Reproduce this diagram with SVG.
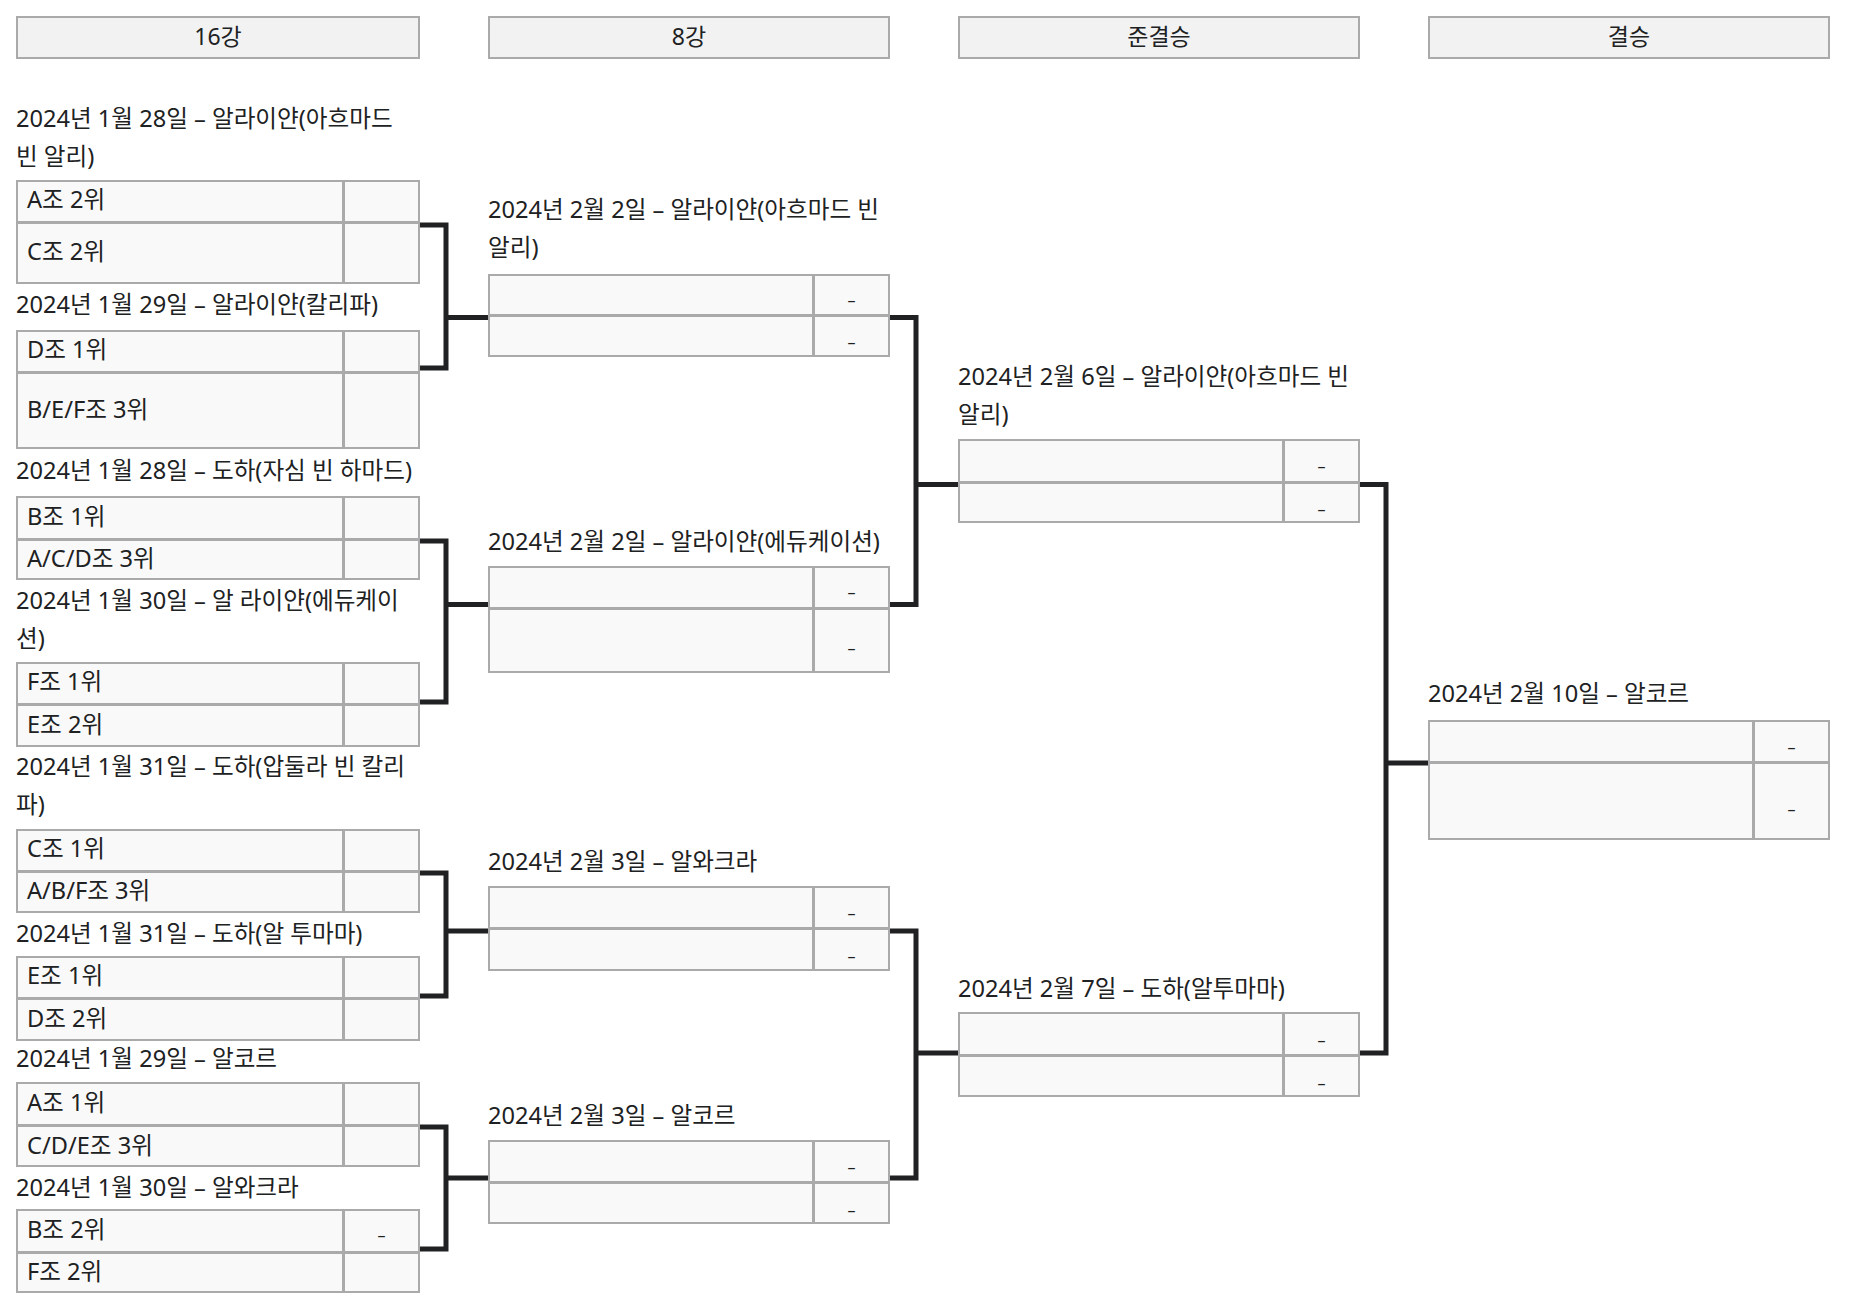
<svg xmlns="http://www.w3.org/2000/svg" width="1876" height="1298" viewBox="0 0 1876 1298">
<style>
text{font-family:"Noto Sans","Noto Sans CJK KR",sans-serif;font-size:23.6px;fill:#202122}
.hd{fill:#f2f2f2;stroke:#aaa;stroke-width:2}
.c{fill:#f9f9f9;stroke:#aaa;stroke-width:2}
.h{text-anchor:middle;font-size:23px}
.d{text-anchor:middle;font-size:16px}
.ln{fill:none;stroke:#202122;stroke-width:5;stroke-linejoin:miter}
</style>
<rect width="1876" height="1298" fill="#fff"/>
<g id="headers">
<rect class="hd" x="17" y="17" width="402" height="41"/><text class="h" x="218" y="45">16강</text>
<rect class="hd" x="489" y="17" width="400" height="41"/><text class="h" x="689" y="45">8강</text>
<rect class="hd" x="959" y="17" width="400" height="41"/><text class="h" x="1159" y="45">준결승</text>
<rect class="hd" x="1429" y="17" width="400" height="41"/><text class="h" x="1629" y="45">결승</text>
</g>
<g id="connectors">
<path class="ln" d="M420 225H446V368H420M446 317.5H488"/>
<path class="ln" d="M420 541H446V702H420M446 604.5H488"/>
<path class="ln" d="M420 873H446V996H420M446 931H488"/>
<path class="ln" d="M420 1127H446V1249H420M446 1178H488"/>
<path class="ln" d="M890 317.5H916V604.5H890M916 484.5H958"/>
<path class="ln" d="M890 931H916V1178H890M916 1053H958"/>
<path class="ln" d="M1360 484.5H1386V1053H1360M1386 763H1428"/>
</g>
<g id="r16-1">
<text x="16" y="127">2024년 1월 28일 – 알라이얀(아흐마드</text><text x="16" y="165">빈 알리)</text>
<rect class="c" x="17" y="181" width="326" height="41"/><rect class="c" x="344" y="181" width="75" height="41"/>
<rect class="c" x="17" y="223" width="326" height="60"/><rect class="c" x="344" y="223" width="75" height="60"/>
<text x="27" y="208">A조 2위</text><text x="27" y="260">C조 2위</text>
</g>
<g id="r16-2">
<text x="16" y="313">2024년 1월 29일 – 알라이얀(칼리파)</text>
<rect class="c" x="17" y="331" width="326" height="41"/><rect class="c" x="344" y="331" width="75" height="41"/>
<rect class="c" x="17" y="373" width="326" height="75"/><rect class="c" x="344" y="373" width="75" height="75"/>
<text x="27" y="358">D조 1위</text><text x="27" y="418">B/E/F조 3위</text>
</g>
<g id="r16-3">
<text x="16" y="479">2024년 1월 28일 – 도하(자심 빈 하마드)</text>
<rect class="c" x="17" y="497" width="326" height="42"/><rect class="c" x="344" y="497" width="75" height="42"/>
<rect class="c" x="17" y="540" width="326" height="39"/><rect class="c" x="344" y="540" width="75" height="39"/>
<text x="27" y="524.5">B조 1위</text><text x="27" y="566.5">A/C/D조 3위</text>
</g>
<g id="r16-4">
<text x="16" y="609">2024년 1월 30일 – 알 라이얀(에듀케이</text><text x="16" y="647">션)</text>
<rect class="c" x="17" y="663" width="326" height="41"/><rect class="c" x="344" y="663" width="75" height="41"/>
<rect class="c" x="17" y="705" width="326" height="41"/><rect class="c" x="344" y="705" width="75" height="41"/>
<text x="27" y="690">F조 1위</text><text x="27" y="732.5">E조 2위</text>
</g>
<g id="r16-5">
<text x="16" y="775">2024년 1월 31일 – 도하(압둘라 빈 칼리</text><text x="16" y="813">파)</text>
<rect class="c" x="17" y="830" width="326" height="41"/><rect class="c" x="344" y="830" width="75" height="41"/>
<rect class="c" x="17" y="872" width="326" height="40"/><rect class="c" x="344" y="872" width="75" height="40"/>
<text x="27" y="857">C조 1위</text><text x="27" y="899">A/B/F조 3위</text>
</g>
<g id="r16-6">
<text x="16" y="942">2024년 1월 31일 – 도하(알 투마마)</text>
<rect class="c" x="17" y="957" width="326" height="41"/><rect class="c" x="344" y="957" width="75" height="41"/>
<rect class="c" x="17" y="999" width="326" height="41"/><rect class="c" x="344" y="999" width="75" height="41"/>
<text x="27" y="984">E조 1위</text><text x="27" y="1026.5">D조 2위</text>
</g>
<g id="r16-7">
<text x="16" y="1067">2024년 1월 29일 – 알코르</text>
<rect class="c" x="17" y="1083" width="326" height="42"/><rect class="c" x="344" y="1083" width="75" height="42"/>
<rect class="c" x="17" y="1126" width="326" height="40"/><rect class="c" x="344" y="1126" width="75" height="40"/>
<text x="27" y="1110.5">A조 1위</text><text x="27" y="1153.5">C/D/E조 3위</text>
</g>
<g id="r16-8">
<text x="16" y="1196">2024년 1월 30일 – 알와크라</text>
<rect class="c" x="17" y="1210" width="326" height="42"/><rect class="c" x="344" y="1210" width="75" height="42"/>
<rect class="c" x="17" y="1253" width="326" height="39"/><rect class="c" x="344" y="1253" width="75" height="39"/>
<text x="27" y="1237.5">B조 2위</text><text x="27" y="1280">F조 2위</text>
<text class="d" x="381.5" y="1241">–</text>
</g>
<g id="qf-1">
<text x="488" y="218">2024년 2월 2일 – 알라이얀(아흐마드 빈</text><text x="488" y="256">알리)</text>
<rect class="c" x="489" y="275" width="324" height="40"/><rect class="c" x="814" y="275" width="75" height="40"/>
<rect class="c" x="489" y="316" width="324" height="40"/><rect class="c" x="814" y="316" width="75" height="40"/>
<text class="d" x="851.5" y="306">–</text><text class="d" x="851.5" y="348">–</text>
</g>
<g id="qf-2">
<text x="488" y="550">2024년 2월 2일 – 알라이얀(에듀케이션)</text>
<rect class="c" x="489" y="567" width="324" height="41"/><rect class="c" x="814" y="567" width="75" height="41"/>
<rect class="c" x="489" y="609" width="324" height="63"/><rect class="c" x="814" y="609" width="75" height="63"/>
<text class="d" x="851.5" y="598">–</text><text class="d" x="851.5" y="654">–</text>
</g>
<g id="qf-3">
<text x="488" y="870">2024년 2월 3일 – 알와크라</text>
<rect class="c" x="489" y="887" width="324" height="41"/><rect class="c" x="814" y="887" width="75" height="41"/>
<rect class="c" x="489" y="929" width="324" height="41"/><rect class="c" x="814" y="929" width="75" height="41"/>
<text class="d" x="851.5" y="919">–</text><text class="d" x="851.5" y="962">–</text>
</g>
<g id="qf-4">
<text x="488" y="1124">2024년 2월 3일 – 알코르</text>
<rect class="c" x="489" y="1141" width="324" height="41"/><rect class="c" x="814" y="1141" width="75" height="41"/>
<rect class="c" x="489" y="1183" width="324" height="40"/><rect class="c" x="814" y="1183" width="75" height="40"/>
<text class="d" x="851.5" y="1173">–</text><text class="d" x="851.5" y="1215.5">–</text>
</g>
<g id="sf-1">
<text x="958" y="385">2024년 2월 6일 – 알라이얀(아흐마드 빈</text><text x="958" y="423">알리)</text>
<rect class="c" x="959" y="440" width="324" height="42"/><rect class="c" x="1284" y="440" width="75" height="42"/>
<rect class="c" x="959" y="483" width="324" height="39"/><rect class="c" x="1284" y="483" width="75" height="39"/>
<text class="d" x="1321.5" y="472">–</text><text class="d" x="1321.5" y="515">–</text>
</g>
<g id="sf-2">
<text x="958" y="997">2024년 2월 7일 – 도하(알투마마)</text>
<rect class="c" x="959" y="1013" width="324" height="42"/><rect class="c" x="1284" y="1013" width="75" height="42"/>
<rect class="c" x="959" y="1056" width="324" height="40"/><rect class="c" x="1284" y="1056" width="75" height="40"/>
<text class="d" x="1321.5" y="1046">–</text><text class="d" x="1321.5" y="1088.5">–</text>
</g>
<g id="final">
<text x="1428" y="702">2024년 2월 10일 – 알코르</text>
<rect class="c" x="1429" y="721" width="324" height="41"/><rect class="c" x="1754" y="721" width="75" height="41"/>
<rect class="c" x="1429" y="763" width="324" height="76"/><rect class="c" x="1754" y="763" width="75" height="76"/>
<text class="d" x="1791.5" y="753">–</text><text class="d" x="1791.5" y="814.5">–</text>
</g>
</svg>
